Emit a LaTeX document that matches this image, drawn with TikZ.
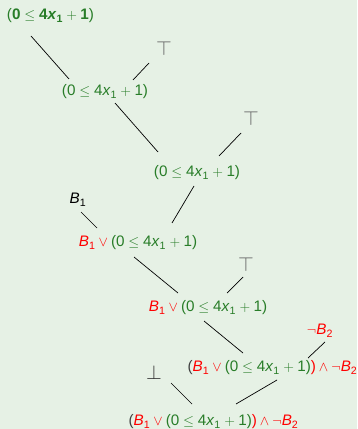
\documentclass[tikz,border=0pt]{standalone}
\usepackage{fontspec}
\setmainfont{Liberation Sans}
\usepackage{tikz}
\usetikzlibrary{calc}

\definecolor{bgreen}{RGB}{230,241,229}
\definecolor{fgreen}{RGB}{40,125,40}
\definecolor{tgray}{RGB}{95,95,95}

% --- formula pieces ---
\newcommand{\xa}{\textit{x}\textsubscript{1}}
\newcommand{\Bn}[1]{\textit{B}\textsubscript{#1}}
\newcommand{\lin}{(0\hspace{0.25em}$\le$\hspace{0.25em}4\xa\hspace{0.22em}$+$\hspace{0.22em}1)}
\newcommand{\linb}{(\textbf{0}\hspace{0.25em}$\le$\hspace{0.25em}\textbf{4\textit{x}\textsubscript{1}}\hspace{0.22em}$+$\hspace{0.22em}\textbf{1})}
\newcommand{\orpart}{\textcolor{red}{\Bn{1}\hspace{0.2em}$\vee$\hspace{0.2em}}}
\newcommand{\andpart}{\textcolor{red}{)\hspace{0.2em}$\wedge$\hspace{0.2em}$\neg$\Bn{2}}}

\begin{document}
\begin{tikzpicture}[
  x=0.03cm, y=-0.03cm,
  font=\fontsize{13}{15}\selectfont,
  lit/.style={inner sep=1pt, text=fgreen},
  leaf/.style={inner sep=1pt},
  const/.style={inner sep=1pt, font=\fontsize{16}{18}\selectfont},
  edge/.style={line width=0.6pt, black},
]
  % --- background ---
  \fill[bgreen] (0,0) rectangle (357,429);
  \useasboundingbox (0,0) rectangle (357,429);

  % --- formulas ---
  \node[lit] (n1) at (50.5,16) {\linb};
  \node[lit] (n2) at (105,92) {\lin};
  \node[lit] (n3) at (197,173) {\lin};
  \node[lit] (n4) at (138,243) {\orpart\lin};
  \node[lit] (n5) at (208,308) {\orpart\lin};
  \node[lit] (n6) at (272.5,368) {\textcolor{black!75}{(}\orpart\lin\andpart};
  \node[lit] (n7) at (213.5,422) {\textcolor{black!75}{(}\orpart\lin\andpart};

  % --- leaves ---
  \node[const, text=tgray] (t1) at (164,48) {$\top$};
  \node[const, text=tgray] (t2) at (251,118) {$\top$};
  \node[const, text=tgray] (t3) at (246,264) {$\top$};
  \node[leaf] (b1) at (78,200) {\Bn{1}};
  \node[leaf, text=red] (nb2) at (320,331) {$\neg$\Bn{2}};
  \node[const, text=black!80] (bt) at (154,372) {$\bot$};

  % --- edges ---
  \draw[edge] ($(n1)+(-19.5,20)$) -- ($(n2)+(-36,-13)$);
  \draw[edge] ($(t1)+(-15,15)$) -- ($(n2)+(28,-12)$);
  \draw[edge] ($(n2)+(10,11)$) -- ($(n3)+(-39,-21)$);
  \draw[edge] ($(t2)+(-10,15)$) -- ($(n3)+(22,-17)$);
  \draw[edge] ($(n3)+(-3,13)$) -- ($(n4)+(34,-20)$);
  \draw[edge] ($(b1)+(3,12)$) -- ($(n4)+(-41,-15)$);
  \draw[edge] ($(n4)+(-4,14)$) -- ($(n5)+(-30,-15)$);
  \draw[edge] ($(t3)+(-3,13)$) -- ($(n5)+(19,-15)$);
  \draw[edge] ($(n5)+(-4,13)$) -- ($(n6)+(-29.5,-15)$);
  \draw[edge] ($(nb2)+(5,11)$) -- ($(n6)+(35.5,-10)$);
  \draw[edge] ($(bt)+(17,11)$) -- ($(n7)+(-21.5,-18)$);
  \draw[edge] ($(n6)+(4.5,12)$) -- ($(n7)+(22.5,-18)$);
\end{tikzpicture}
\end{document}
